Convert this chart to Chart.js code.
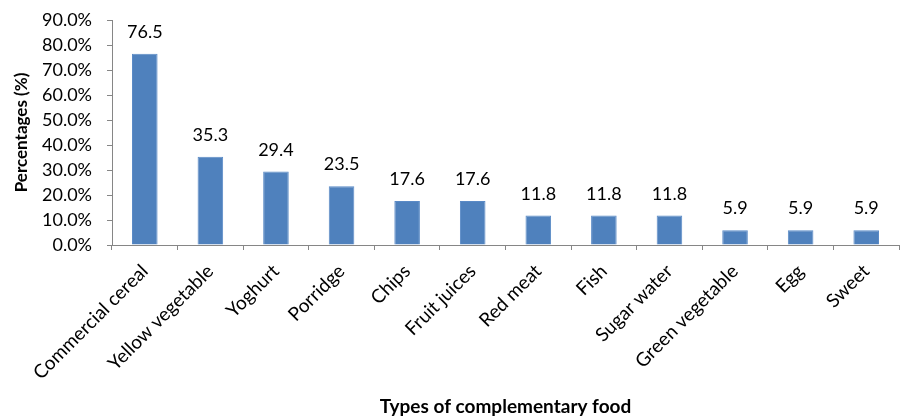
<!DOCTYPE html>
<html>
<head>
<meta charset="utf-8">
<script src="https://cdn.jsdelivr.net/npm/chart.js@4"></script>
<style>
html,body{margin:0;padding:0;background:#fff;}
#wrap{width:901px;height:420px;position:relative;}
</style>
</head>
<body>
<div id="wrap"><canvas id="c" width="901" height="420"></canvas></div>
<script>
const categories = ["Commercial cereal","Yellow vegetable","Yoghurt","Porridge","Chips","Fruit juices","Red meat","Fish","Sugar water","Green vegetable","Egg","Sweet"];
const percentages = [76.5,35.3,29.4,23.5,17.6,17.6,11.8,11.8,11.8,5.9,5.9,5.9];
const yTicks = [0,10,20,30,40,50,60,70,80,90];
const xTitle = "Types of complementary food";
const yTitle = "Percentages (%)";

const FONT = "Lato, 'Open Sans', sans-serif";

const valueLabels = {
  id: 'valueLabels',
  afterDatasetsDraw(chart) {
    const ctx = chart.ctx;
    const meta = chart.getDatasetMeta(0);
    ctx.save();
    ctx.font = "18px " + FONT;
    ctx.fillStyle = "#000";
    ctx.textAlign = "center";
    ctx.textBaseline = "alphabetic";
    meta.data.forEach((bar, i) => {
      ctx.fillText(percentages[i].toFixed(1), bar.x, bar.y - 16);
    });
    ctx.restore();
  }
};

new Chart(document.getElementById('c'), {
  type: 'bar',
  data: {
    labels: categories,
    datasets: [{
      data: percentages,
      backgroundColor: '#4F81BD',
      borderColor: '#5A8AC6',
      borderWidth: 1,
      categoryPercentage: 1,
      barPercentage: 0.39
    }]
  },
  options: {
    responsive: false,
    animation: false,
    devicePixelRatio: 1,
    layout: { padding: { left: 0, right: 2, top: 20, bottom: 0 } },
    plugins: { legend: { display: false }, tooltip: { enabled: false } },
    scales: {
      x: {
        grid: { display: true, drawOnChartArea: false, color: '#868686', tickLength: 5, offset: true, tickColor: '#868686' },
        border: { color: '#868686', width: 1 },
        ticks: { color: '#000', font: { family: FONT, size: 19 }, minRotation: 45, maxRotation: 45, autoSkip: false, padding: 10 },
        title: { display: true, text: xTitle, color: '#000', font: { family: FONT, size: 19, weight: 'bold' }, padding: { top: 4, bottom: 2 } },
        afterFit(s) { s.height = 175; s.paddingLeft = 0; s.paddingRight = 0; }
      },
      y: {
        min: 0, max: 90,
        afterBuildTicks(s) { s.ticks = yTicks.map(v => ({ value: v })); },
        grid: { display: true, drawOnChartArea: false, color: '#868686', tickLength: 5 },
        border: { color: '#868686', width: 1 },
        ticks: { color: '#000', font: { family: FONT, size: 18 }, padding: 15, autoSkip: false, callback: v => v.toFixed(1) + '%' },
        title: { display: true, text: yTitle, color: '#000', font: { family: FONT, size: 17, weight: 'bold' }, padding: { top: 11, bottom: 4 } },
        afterFit(s) { s.width = 112; s.paddingTop = 0; s.paddingBottom = 0; }
      }
    }
  },
  plugins: [valueLabels]
});
</script>
</body>
</html>
